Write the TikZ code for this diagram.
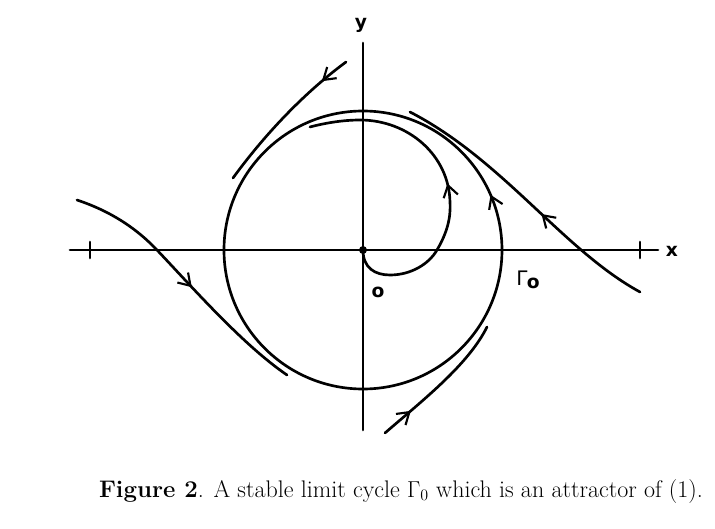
\documentclass[tikz,border=0pt]{standalone}
\usepackage{fontspec}
\newfontfamily\lblfont{DejaVu Sans}
\usetikzlibrary{arrows.meta,decorations.markings}
\begin{document}
\begin{tikzpicture}[x=0.75pt,y=0.75pt,line width=2pt,line cap=round,
  flow/.style={decoration={markings,
      mark=at position #1 with {\arrow{Straight Barb[length=8.5pt,width=11pt,line width=1.6pt]}}},
    postaction={decorate}},
  lbl/.style={font=\lblfont\fontsize{14}{17}\selectfont\bfseries, inner sep=0pt}]
\useasboundingbox (-363,-279) rectangle (352,250);
% axes
\coordinate (xl) at (-293,0);
\coordinate (xr) at (295,0);
\coordinate (yt) at (0,207);
\coordinate (yb) at (0,-180);
\draw (xl) -- (xr);
\draw (yb) -- (yt);
\draw (-273,-8) -- (-273,8);
\draw (277,-8) -- (277,8);
\node[lbl] (xlab) at (309,-1) {x};
\node[lbl] (ylab) at (-2,225) {y};
% origin
\coordinate (O) at (0,0);
\fill (O) circle (4);
\node[lbl] (olab) at (15,-42) {o};
% limit cycle
\draw[flow=0.065] (O) circle (139);
\node[inner sep=0pt] (glab) at (165,-30)
  {\lblfont\fontsize{15}{18}\selectfont Γ\kern-0.5pt\raisebox{-2.5pt}{\fontsize{14}{17}\selectfont\bfseries o}};
% spiral from origin
\draw[flow=0.50] (O) .. controls (0,-18) and (12,-25) .. (27,-25)
  .. controls (48,-25) and (66,-14) .. (74,0)
  .. controls (84,17) and (88,32) .. (87,48)
  .. controls (86,95) and (45,130) .. (-3,130)
  .. controls (-20,130) and (-38,127) .. (-53,123);
% upper-left trajectory
\draw[flow=0.19] (-17,188) .. controls (-55,160) and (-95,120) .. (-130,72);
% bottom-right trajectory
\draw[flow=0.23] (22,-183) .. controls (60,-150) and (105,-115) .. (124,-77);
% left trajectory
\draw[flow=0.53] (-286,50) .. controls (-250,38) and (-225,20) .. (-206,0)
  .. controls (-170,-38) and (-120,-95) .. (-76,-125);
% right trajectory
\draw[flow=0.43] (277,-42) .. controls (200,0) and (140,90) .. (47,138);
% caption
\node[anchor=base, inner sep=0pt, font=\fontsize{18}{21}\selectfont] (cap) at (38,-247)
  {\textbf{Figure 2}. A stable limit cycle $\Gamma_0$ which is an attractor of (1).};
\end{tikzpicture}
\end{document}
